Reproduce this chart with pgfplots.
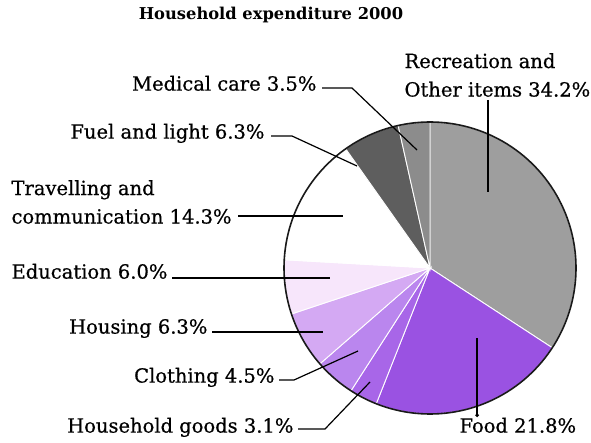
\documentclass[border=0pt]{standalone}
\usepackage{pgfplots}
\pgfplotsset{compat=1.18}
\usetikzlibrary{arrows.meta}
\usepackage{fontspec}
\setmainfont{DejaVu Serif}
\newfontfamily\labfont[FakeBold=0.6]{DejaVu Serif}
\definecolor{crec}{HTML}{9E9E9E}
\definecolor{cfood}{HTML}{9A52E2}
\definecolor{cgoods}{HTML}{A866E8}
\definecolor{ccloth}{HTML}{BA86EE}
\definecolor{chous}{HTML}{D4A9F3}
\definecolor{cedu}{HTML}{F7E6FB}
\definecolor{ctrav}{HTML}{FFFFFF}
\definecolor{cfuel}{HTML}{5E5E5E}
\definecolor{cmed}{HTML}{8C8C8C}
% pie centre (px) and radius
\def\cx{430}\def\cy{268}\def\rr{146}
% #1 = cumulative share before the slice (%), #2 = share (%), #3 = colour
\newcommand{\slice}[3]{%
  \addplot[fill=#3, draw=white, line width=0.9pt, samples=60,
    domain={90-3.6*(#1+#2)}:{90-3.6*(#1)}]
    ({\cx+\rr*cos(x)},{\cy-\rr*sin(x)}) -- (axis cs:\cx,\cy) -- cycle;}
\newcommand{\lab}{\labfont\fontsize{19.5}{28.5}\selectfont}
\begin{document}
\begin{tikzpicture}
\useasboundingbox (0,0) rectangle (591pt,443pt);
\begin{axis}[at={(0,0)}, anchor=south west, scale only axis,
  width=591pt, height=443pt, xmin=0, xmax=591, ymin=0, ymax=443,
  y dir=reverse, hide axis, clip=false]
% Household expenditure 2000 (%)
\slice{0}{34.2}{crec}    % Recreation and other items
\slice{34.2}{21.8}{cfood} % Food
\slice{56.0}{3.1}{cgoods} % Household goods
\slice{59.1}{4.5}{ccloth} % Clothing
\slice{63.6}{6.3}{chous}  % Housing
\slice{69.9}{6.0}{cedu}   % Education
\slice{75.9}{14.3}{ctrav} % Travelling and communication
\slice{90.2}{6.3}{cfuel}  % Fuel and light
\slice{96.5}{3.5}{cmed}   % Medical care
\addplot[draw=black!90, line width=1.6pt, domain=0:360, samples=181]
  ({\cx+\rr*cos(x)},{\cy-\rr*sin(x)});
% leader lines
\draw[line width=1.2pt] (axis cs:488,100) -- (axis cs:488,192);
\draw[line width=1.2pt] (axis cs:322,88) -- (axis cs:352,88) -- (axis cs:417,150);
\draw[line width=1.2pt] (axis cs:271,136) -- (axis cs:292,136) -- (axis cs:357,166);
\draw[line width=1.2pt] (axis cs:238,216) -- (axis cs:343,216);
\draw[line width=1.2pt] (axis cs:172,278) -- (axis cs:330,278);
\draw[line width=1.2pt] (axis cs:212,332) -- (axis cs:323,332);
\draw[line width=1.2pt] (axis cs:279,380) -- (axis cs:294,380) -- (axis cs:358,351);
\draw[line width=1.2pt] (axis cs:298,429) -- (axis cs:325,429) -- (axis cs:370,382);
\draw[line width=1.2pt, -{Circle[length=3.5pt]}] (axis cs:477,338) -- (axis cs:477,417);
% labels
\node[font=\fontsize{16.3}{18}\selectfont\bfseries] at (axis cs:271,15) {Household expenditure 2000};
\node[font=\lab, anchor=west, align=left] at (axis cs:401,75) {Recreation and\\Other items 34.2\%};
\node[font=\lab, anchor=mid east] at (axis cs:320,88) {Medical care 3.5\%};
\node[font=\lab, anchor=mid east] at (axis cs:268,136) {Fuel and light 6.3\%};
\node[font=\lab, anchor=west, align=left] at (axis cs:8,202) {Travelling and\\communication 14.3\%};
\node[font=\lab, anchor=mid west] at (axis cs:8,276) {Education 6.0\%};
\node[font=\lab, anchor=mid east] at (axis cs:211,331) {Housing 6.3\%};
\node[font=\lab, anchor=mid east] at (axis cs:278,380) {Clothing 4.5\%};
\node[font=\lab, anchor=mid east] at (axis cs:297,430) {Household goods 3.1\%};
\node[font=\lab, anchor=mid west] at (axis cs:456,430) {Food 21.8\%};
\end{axis}
\end{tikzpicture}
\end{document}
